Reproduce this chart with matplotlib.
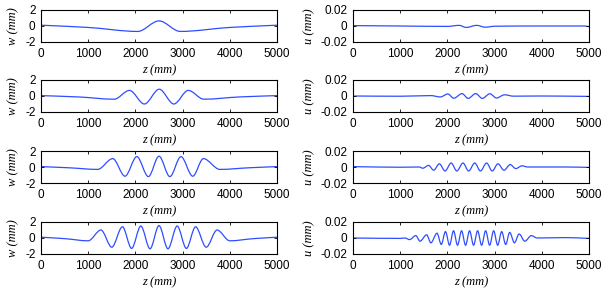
import numpy as np
import matplotlib
matplotlib.use("Agg")
import matplotlib.pyplot as plt
from matplotlib.path import Path
from matplotlib.patches import PathPatch

# points (z in mm), extrema + kinks of each curve
z_w1 = [0, 1000, 2050, 2500, 2950, 4000, 5000]
w1 = [0.1, -0.18, -0.68, 0.64, -0.68, -0.18, 0.1]

z_w2 = [0, 800, 1550, 1875, 2190, 2505, 2815, 3120, 3450, 4200, 5000]
w2 = [0.05, -0.12, -0.4, 0.7, -1.0, 0.85, -1.0, 0.7, -0.4, -0.12, 0.05]

z_w3 = [0, 600, 1200, 1520, 1780, 2030, 2275, 2500, 2730, 2965, 3215, 3440, 3790, 4400, 5000]
w3 = [0.05, -0.1, -0.3, 1.05, -1.15, 1.3, -1.2, 1.35, -1.2, 1.3, -1.15, 1.05, -0.3, -0.1, 0.05]

z_w4 = [0, 500, 1000, 1270, 1500, 1725, 1920, 2115, 2310, 2500, 2690, 2885, 3080, 3275, 3500, 3730, 4000, 4500, 5000]
w4 = [0.1, -0.08, -0.35, 1.0, -1.15, 1.4, -1.3, 1.5, -1.35, 1.55, -1.35, 1.5, -1.3, 1.4, -1.15, 1.0, -0.35, -0.08, 0.1]

z_u1 = [0, 1000, 2000, 2250, 2400, 2620, 2800, 3000, 4000, 4900, 5000]
u1 = [0.0005, 0.0, -0.0005, 0.0008, -0.0018, 0.0008, -0.0015, -0.0003, 0.0, 0.0, -0.0008]

z_u2 = [0, 1000, 1650, 1850, 2010, 2135, 2310, 2440, 2600, 2740, 2900, 3040, 3210, 3400, 4000, 5000]
u2 = [0.0, -0.0003, 0.0005, -0.0012, 0.0025, -0.0028, 0.003, -0.003, 0.003, -0.003, 0.0028, -0.0025, 0.0015, -0.0002, 0.0, -0.0005]

z_u3 = [0, 1000, 1400, 1480, 1600, 1710, 1830, 1950, 2080, 2200, 2330, 2450, 2580, 2700, 2830, 2950, 3070, 3200, 3330, 3450, 3580, 3700, 4500, 5000]
u3 = [0.0005, -0.0003, 0.0, -0.0015, 0.002, -0.004, 0.004, -0.005, 0.005, -0.005, 0.005, -0.005, 0.005, -0.005, 0.005, -0.005, 0.004, -0.004, 0.003, -0.002, 0.0015, 0.0, 0.0, -0.0005]

z_u4 = [0, 1000, 1100, 1200, 1330, 1420, 1560, 1650, 1780, 1870, 1960, 2045, 2130, 2215, 2300, 2385, 2470, 2555, 2640, 2725, 2810, 2895, 2980, 3065, 3150, 3235, 3320, 3420, 3520, 3640, 3780, 3900, 4500, 5000]
u4 = [0.0, -0.0005, 0.0, -0.002, 0.003, -0.004, 0.004, -0.006, 0.006, -0.008, 0.008, -0.009, 0.009, -0.009, 0.009, -0.009, 0.009, -0.009, 0.009, -0.009, 0.009, -0.009, 0.009, -0.009, 0.008, -0.008, 0.007, -0.006, 0.005, -0.004, 0.003, 0.0, 0.0005, -0.0005]

xticks = [0, 1000, 2000, 3000, 4000, 5000]
w_ticks = [-2, 0, 2]
w_ticklabels = ["-2", "0", "2"]
u_ticks = [-0.02, 0, 0.02]
u_ticklabels = ["-0.02", "0", "0.02"]

left_curves = [(z_w1, w1), (z_w2, w2), (z_w3, w3), (z_w4, w4)]
right_curves = [(z_u1, u1), (z_u2, u2), (z_u3, u3), (z_u4, u4)]

line_color = "#2f4dff"
sans = "Liberation Sans"
serif = "Liberation Serif"


def smooth_path(z, v):
    # monotone cubic (Fritsch-Carlson) slopes, drawn as bezier segments
    z = np.asarray(z, float)
    v = np.asarray(v, float)
    h = np.diff(z)
    d = np.diff(v) / h
    m = np.zeros_like(v)
    m[0], m[-1] = d[0], d[-1]
    for i in range(1, len(v) - 1):
        if d[i - 1] * d[i] > 0:
            w1_, w2_ = 2 * h[i] + h[i - 1], h[i] + 2 * h[i - 1]
            m[i] = (w1_ + w2_) / (w1_ / d[i - 1] + w2_ / d[i])
    verts = [(z[0], v[0])]
    codes = [Path.MOVETO]
    for i in range(len(h)):
        verts += [(z[i] + h[i] / 3, v[i] + m[i] * h[i] / 3),
                  (z[i + 1] - h[i] / 3, v[i + 1] - m[i + 1] * h[i] / 3),
                  (z[i + 1], v[i + 1])]
        codes += [Path.CURVE4] * 3
    return Path(verts, codes)


fig = plt.figure(figsize=(6.08, 2.88), dpi=100)
W, H = 608, 288
bottoms_px = [42, 112, 183, 254]

for row in range(4):
    for col in range(2):
        x0 = 41 if col == 0 else 353
        ax = fig.add_axes([x0 / W, 1 - bottoms_px[row] / H, 236 / W, 32 / H])
        z, v = (left_curves if col == 0 else right_curves)[row]
        ax.add_patch(PathPatch(smooth_path(z, v), fill=False, edgecolor=line_color, lw=0.9))
        ax.set_xlim(0, 5000)
        ax.set_xticks(xticks)
        ax.set_xticklabels([str(t) for t in xticks], fontfamily=sans, fontsize=8.5)
        if col == 0:
            ax.set_ylim(-2, 2)
            ax.set_yticks(w_ticks)
            ax.set_yticklabels(w_ticklabels, fontfamily=sans, fontsize=8.5)
            ax.set_ylabel("w (mm)", fontfamily=serif, fontstyle="italic", fontsize=9, labelpad=4)
        else:
            ax.set_ylim(-0.02, 0.02)
            ax.set_yticks(u_ticks)
            ax.set_yticklabels(u_ticklabels, fontfamily=sans, fontsize=8.5)
            ax.set_ylabel("u (mm)", fontfamily=serif, fontstyle="italic", fontsize=9, labelpad=4)
        ax.set_xlabel("z (mm)", fontfamily=serif, fontstyle="italic", fontsize=9, labelpad=3.5)
        ax.tick_params(direction="in", top=True, right=True, length=2.5, width=0.6, pad=4)
        for s in ax.spines.values():
            s.set_linewidth(0.8)

fig.savefig("out.png", dpi=100)
